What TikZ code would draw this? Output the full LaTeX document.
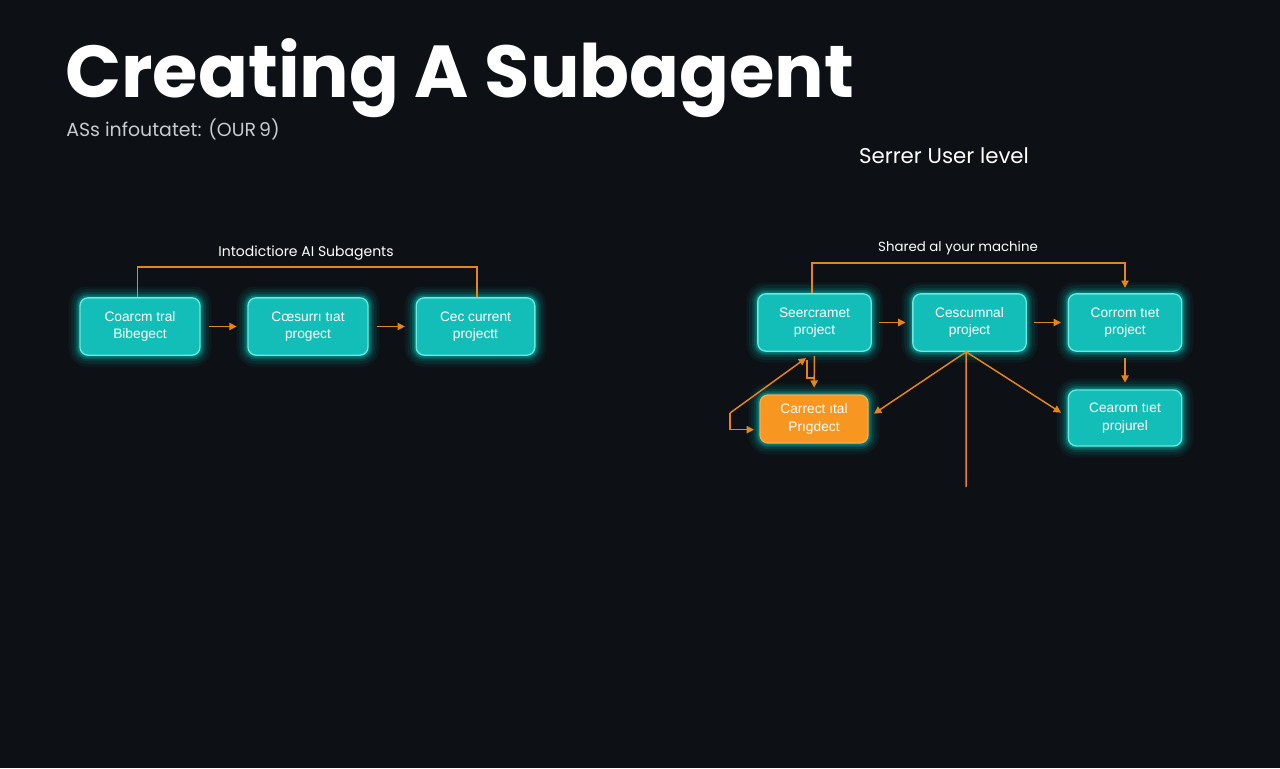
\documentclass[tikz,border=0pt]{standalone}
\usepackage{fontspec}
\setmainfont{Liberation Sans}
\newfontfamily\titlefont{Poppins}
\usetikzlibrary{arrows.meta,backgrounds,calc}
\definecolor{bgc}{RGB}{13,17,22}
\definecolor{tealfill}{RGB}{20,190,184}
\definecolor{tealedge}{RGB}{110,232,222}
\definecolor{glowc}{RGB}{0,225,215}
\definecolor{orfill}{RGB}{247,150,32}
\definecolor{orline}{RGB}{232,132,28}
\definecolor{subgray}{RGB}{200,204,208}
\tikzset{
  box/.style={draw=tealedge, line width=1pt, fill=tealfill, rounded corners=6pt,
    text=white, align=center, font=\fontsize{10.3}{13}\selectfont, inner sep=2pt},
  obox/.style={box, fill=orfill, draw=orfill!80!white},
  arr/.style={draw=orline, line width=1.1pt, -{Triangle[length=5.5pt,width=5.5pt]}},
  ln/.style={draw=orline, line width=1.1pt},
  lbl/.style={text=white, font=\titlefont\fontsize{10.5}{12}\selectfont},
}
\newcommand{\glowit}[2]{%
  \foreach \w/\o in {16/0.05,12/0.07,8/0.1,5/0.16,2.5/0.25}{%
    \draw[line width=\w pt, draw=#2, opacity=\o, rounded corners=6pt]
      (#1.south west) rectangle (#1.north east);}}
\begin{document}
\begin{tikzpicture}[x=0.75pt,y=-0.75pt]
\useasboundingbox (0,0) rectangle (1280,768);
\begin{scope}[on background layer]
\fill[bgc] (0,0) rectangle (1280,768);
\end{scope}
% titles
\node[anchor=base west, inner sep=0, text=white, font=\titlefont\bfseries\fontsize{55.2}{60}\selectfont] (title) at (65,97) {Creating A Subagent};
\node[anchor=base west, inner sep=0, text=subgray, font=\titlefont\fontsize{14.2}{16}\selectfont] (sub) at (66,136) {ASs infoutatet: (OUR\,9)};
\node[anchor=base, inner sep=0, text=white, font=\titlefont\fontsize{16}{18}\selectfont] (lvl) at (944,163) {Serrer User level};
% left diagram
\node[lbl, anchor=base] (llbl) at (306,256) {Intodictiore AI Subagents};
\node[box, minimum width=90pt, minimum height=43pt] (L1) at (140,326.5) {Coarcm tral\\Bibegect};
\node[box, minimum width=90pt, minimum height=43pt] (L2) at (308,326.5) {Cœsurrı tıat\\progect};
\node[box, minimum width=89pt, minimum height=43pt] (L3) at (475.5,326.5) {Cec current\\projectt};
\draw[ln] ([xshift=-2pt]L1.north) -- ++(0,-30) -| ([xshift=1pt]L3.north);
\draw[arr, shorten <=6pt, shorten >=8pt] (L1.east) -- (L2.west);
\draw[arr, shorten <=6pt, shorten >=8pt] (L2.east) -- (L3.west);
% right diagram
\node[lbl, anchor=base, font=\titlefont\fontsize{10}{12}\selectfont] (rlbl) at (958,251) {Shared al your machine};
\node[box, minimum width=85pt, minimum height=43pt] (A) at (814.5,322.5) {Seercramet\\project};
\node[box, minimum width=85pt, minimum height=43pt] (B) at (969.5,322.5) {Cescumnal\\project};
\node[box, minimum width=85pt, minimum height=43pt] (C) at (1125,322.5) {Corrom tıet\\project};
\node[obox, minimum width=81pt, minimum height=36pt] (D) at (814,419) {Carrect ıtal\\Prıgdect};
\node[box, minimum width=85pt, minimum height=42pt] (E) at (1125,418) {Cearom tıet\\projurel};
\draw[arr] ([xshift=-2pt]A.north) -- ++(0,-30) -| ([yshift=4pt]C.north);
\draw[arr, shorten <=5pt, shorten >=5pt] (A.east) -- (B.west);
\draw[arr, shorten <=5pt, shorten >=5pt] (B.east) -- (C.west);
\draw[arr, shorten <=4.5pt, shorten >=5pt] (C.south) -- (E.north);
\coordinate (hub) at ([xshift=-2.5pt]B.south);
\coordinate (tail) at (966,487);
\draw[arr] (hub) -- ([xshift=4pt,yshift=4pt]D.east);
\draw[arr] (hub) -- ([xshift=-5pt,yshift=4pt]E.west);
\draw[ln] (hub) -- (tail);
\draw[arr, shorten <=3pt, shorten >=5pt] (A.south) -- (D.north);
\coordinate (lp1) at (730,413);
\coordinate (lp2) at (806,358);
\coordinate (st1) at (807,360);
\coordinate (st2) at (815,378);
\draw[arr] (lp1) -- (lp2);
\draw[arr] (lp1) |- ([xshift=-4pt,yshift=-8pt]D.west);
\draw[ln] (st1) |- (st2);
% glow
\begin{scope}[on background layer]
\glowit{L1}{glowc}\glowit{L2}{glowc}\glowit{L3}{glowc}
\glowit{A}{glowc}\glowit{B}{glowc}\glowit{C}{glowc}\glowit{E}{glowc}
\glowit{D}{glowc}
\end{scope}
\end{tikzpicture}
\end{document}
